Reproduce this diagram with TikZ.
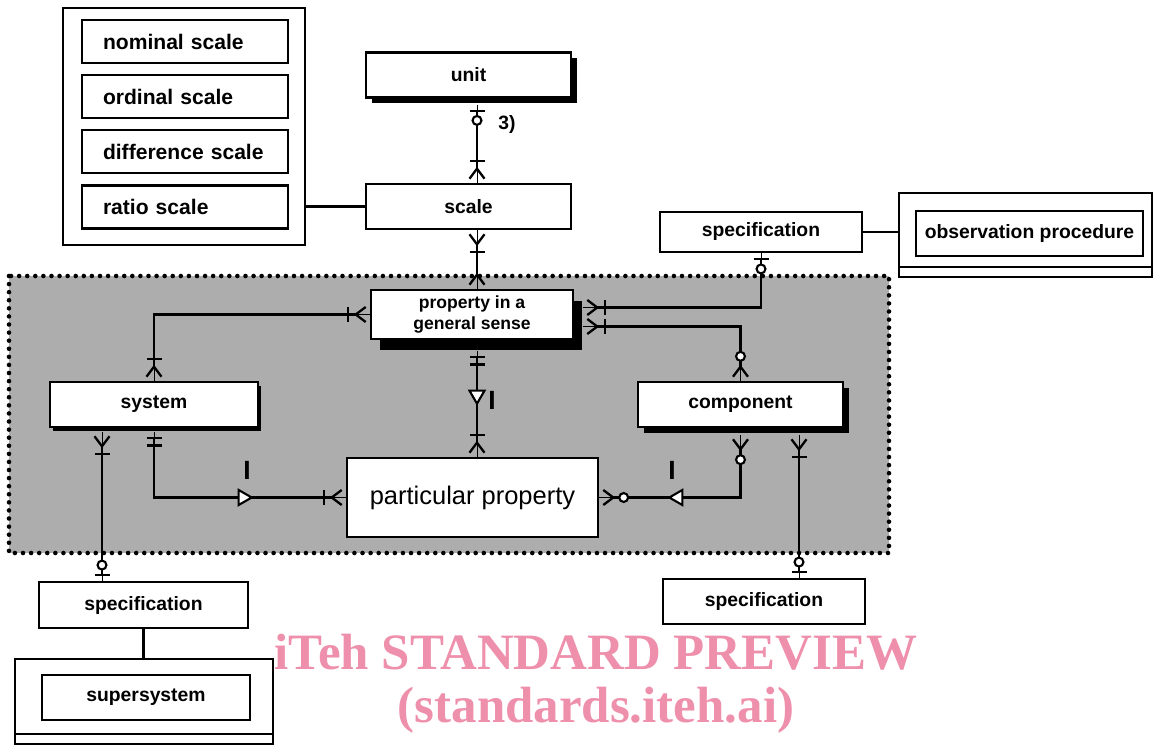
\documentclass[tikz,border=0pt]{standalone}
\usepackage{fontspec}
\setmainfont{Liberation Sans}
\newfontfamily\wmfont{Liberation Serif}
\usepackage{xcolor}
\usetikzlibrary{arrows.meta,positioning,shapes.geometric,shadows,calc}

\definecolor{wmpink}{RGB}{238,143,171}

\tikzset{
  one/.tip={Bar[width=3mm, line width=1.3pt, sep=1mm]},
  zero/.tip={Circle[length=2.2mm, fill=white, line width=1.2pt, sep=0.6mm]},
  crow/.tip={Straight Barb[reversed, length=2mm, width=3mm, line width=1.3pt, sep=0.6mm]},
}

\begin{document}
\begin{tikzpicture}[
    x=0.2mm, y=-0.2mm,
    every node/.style={font=\fontsize{11}{13}\selectfont\bfseries},
    box/.style={draw, line width=1.3pt, fill=white, inner sep=0pt,
                minimum width=41mm, minimum height=9mm},
    listbox/.style={box, minimum width=41.2mm, minimum height=8.6mm,
                    text width=32.8mm, align=left, inner xsep=4.2mm,
                    font=\fontsize{12}{14}\selectfont\bfseries},
    groupbox/.style={draw, line width=1.4pt, fill=white, inner sep=0pt},
    shadowbox/.style={box, drop shadow={shadow xshift=1.2mm, shadow yshift=-1.2mm,
                      fill=black, opacity=1}},
    deepbox/.style={box, drop shadow={shadow xshift=1.8mm, shadow yshift=-2.2mm,
                    fill=black, opacity=1}},
    rel/.style={line width=1.3pt, preaction={draw, -}},
    gen/.style={isosceles triangle, isosceles triangle apex angle=60, draw,
                fill=white, line width=1.2pt, inner sep=0pt, minimum size=2.6mm},
    genmark/.style={font=\fontsize{15}{15}\selectfont\bfseries},
    region/.style={fill=black!32, draw, line width=2.6pt, line cap=round,
                   dash pattern=on 0pt off 4.6pt},
]
\useasboundingbox (0,0) rectangle (1153,746);

% -------- shaded area --------
\path[region] (9,276) rectangle (889,553);

% -------- scales --------
\node[groupbox, minimum width=48.4mm, minimum height=47.4mm] (scales) at (184,126.5) {};
\foreach \y/\nm/\txt in {41.5/nominal/nominal scale, 96.5/ordinal/ordinal scale,
                         151.5/difference/difference scale, 207/ratio/ratio scale}{
  \node[listbox] (\nm) at (185,\y) {\txt};
}

\node[shadowbox] (unit)  at (468.5,75)   {unit};
\node[box]       (scale) at (468.5,206.5) {scale};
\node (card) at (507,125) {3)};

% -------- observation --------
\node[box, minimum width=40.4mm, minimum height=8mm] (specobs) at (761,232) {specification};
\node[groupbox, minimum width=50.6mm, minimum height=16.8mm] (obsout) at (1025.5,235) {};
\coordinate (obsline) at (0,267);
\draw[line width=1.4pt] (obsout.west |- obsline) -- (obsout.east |- obsline);
\node[box, minimum width=45.4mm] (obs) at (1029.5,233.5) {observation procedure};

% -------- inner part --------
\node[deepbox, minimum width=40.4mm, minimum height=9.8mm, align=center,
      font=\fontsize{10}{11.5}\selectfont\bfseries] (prop) at (472,314.5)
      {property in a\\general sense};
\node[box, drop shadow={shadow xshift=0.6mm, shadow yshift=-0.8mm, fill=black, opacity=1},
      minimum width=41.6mm] (sys) at (154,404.5) {system};
\node[shadowbox] (comp) at (740.5,404.5) {component};
\node[box, minimum width=50.2mm, minimum height=15.8mm,
      font=\fontsize{14.5}{17}\selectfont] (pp) at (472.5,497.5) {particular property};

% -------- lower part --------
\node[box, minimum width=41.8mm, minimum height=9.2mm] (specsys) at (143.5,605) {specification};
\node[groupbox, minimum width=51.6mm, minimum height=17mm] (superout) at (144,701.5) {};
\coordinate (superline) at (0,734);
\draw[line width=1.4pt] (superout.west |- superline) -- (superout.east |- superline);
\node[box, minimum width=41.6mm] (super) at (146,697.5) {supersystem};
\node[box, minimum width=40.4mm] (speccomp) at (764,601.5) {specification};

% -------- relations --------
\coordinate (spine) at (477,0);
\coordinate (sysleg) at (102,0);
\coordinate (compleg) at (799,0);

\draw[line width=1.3pt] (scale.west -| scales.east) -- (scale.west);
\draw[rel, {one[] zero[]}-{one[] crow[]}, shorten <=1.2mm] (unit.south -| spine) -- (scale.north -| spine);
\draw[rel, {crow[] one[]}-{crow[]}] (scale.south -| spine) -- (prop.north -| spine);
\draw[rel, {crow[] one[]}-{one[] crow[]}] (prop.west) -| (sys.north);
\draw[rel, {crow[] one[]}-{zero[] one[]}, shorten <=0.8mm] (sys.south -| sysleg) -- (specsys.north -| sysleg);
\draw[line width=1.3pt] (specsys.south) -- (superout.north -| specsys.south);
\draw[rel, {one[] one[]}-{one[] crow[]}, shorten <=0.8mm] (sys.south) |- (pp.west);
\draw[rel, {one[] one[]}-{one[] crow[]}, shorten <=2.2mm] (prop.south -| spine) -- (pp.north -| spine);
\draw[rel, {crow[] zero[]}-{one[] crow[]}, shorten >=1.8mm] (comp.north) |- ($(prop.east)+(0,12)$);
\draw[rel, {one[] zero[]}-{one[] crow[]}, shorten >=1.8mm] (specobs.south) |- ($(prop.east)+(0,-7)$);
\draw[line width=1.3pt] (specobs.east) -- (obsout.west |- specobs.east);
\draw[rel, {crow[] zero[]}-{zero[] crow[]}, shorten <=1.4mm] (comp.south) |- (pp.east);
\draw[rel, {crow[] one[]}-{zero[] one[]}, shorten <=1.4mm] (comp.south -| compleg) -- (speccomp.north -| compleg);

% generalisation marks
\node[gen] (gsys) at (243,497.5) {};
\node[genmark] (isys) at (247,470) {I};
\node[gen, shape border rotate=270] (gprop) at (477,395) {};
\node[genmark] (iprop) at (492,400) {I};
\node[gen, shape border rotate=180] (gcomp) at (678,497.5) {};
\node[genmark] (icomp) at (672,470) {I};

% -------- watermark --------
\node[font=\wmfont\fontsize{29}{30}\selectfont\bfseries, text=wmpink, align=center]
  (wm) at (596,684) {iTeh STANDARD PREVIEW\\(standards.iteh.ai)};
\end{tikzpicture}
\end{document}
